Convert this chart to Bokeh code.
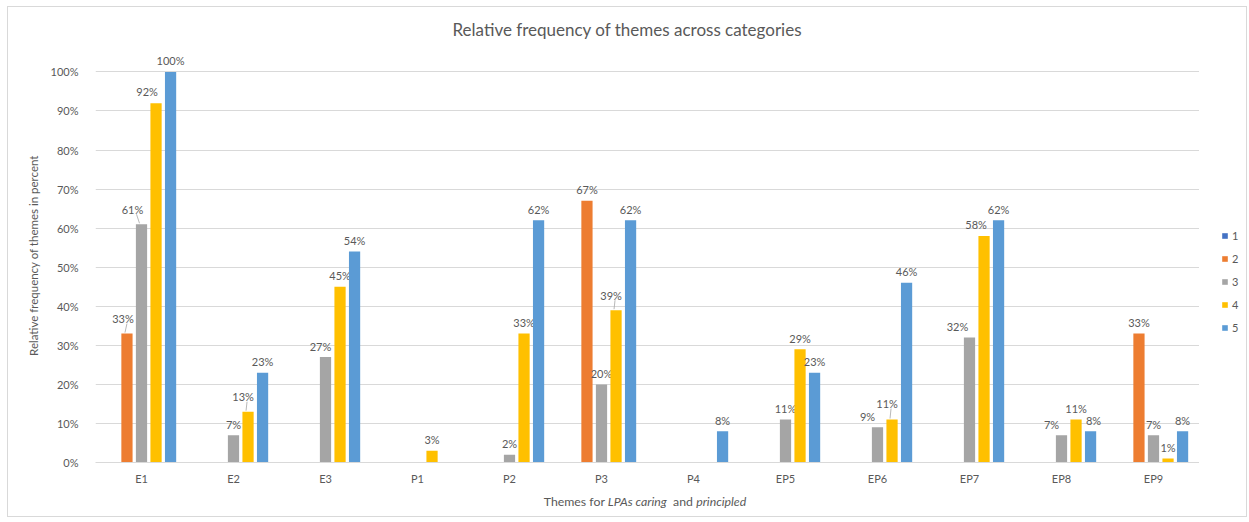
from bokeh.plotting import figure
from bokeh.models import (ColumnDataSource, FactorRange, Range1d, FixedTicker,
                          NumeralTickFormatter, Legend, LegendItem, Div)
from bokeh.layouts import column, row
from bokeh.transform import dodge
from bokeh.core.properties import value
from bokeh.embed import file_html
from bokeh.resources import INLINE

# ---------------- data ----------------
categories = ["E1", "E2", "E3", "P1", "P2", "P3", "P4", "EP5", "EP6", "EP7", "EP8", "EP9"]
series_names = ["1", "2", "3", "4", "5"]
s1 = [0, 0, 0, 0, 0, 0, 0, 0, 0, 0, 0, 0]
s2 = [33, 0, 0, 0, 0, 67, 0, 0, 0, 0, 0, 33]
s3 = [61, 7, 27, 0, 2, 20, 0, 11, 9, 32, 7, 7]
s4 = [92, 13, 45, 3, 33, 39, 0, 29, 11, 58, 11, 1]
s5 = [100, 23, 54, 0, 62, 62, 8, 23, 46, 62, 8, 8]
series_values = [s1, s2, s3, s4, s5]
y_ticks = [0, 0.1, 0.2, 0.3, 0.4, 0.5, 0.6, 0.7, 0.8, 0.9, 1.0]

title_text = "Relative frequency of themes across categories"
y_title = "Relative frequency of themes in percent"
x_title_html = "Themes for <i>LPAs caring</i>&nbsp; and <i>principled</i>"

# ---------------- style ----------------
colors = ["#4472C4", "#ED7D31", "#A5A5A5", "#FFC000", "#5B9BD5"]
FONT = "Lato"
TXT = "#595959"
GRID = "#D9D9D9"
step = 0.158
bar_w = 0.122
PX_X = 92.0      # pixels per category (approx)
PX_Y = 391.0     # pixels per unit of y (approx)

# label nudges (pixels) for crowded labels, like the reference
nudges = {("E1", "2"): (-4, -4), ("E1", "3"): (-9, -4), ("E1", "4"): (-9, -1),
          ("E2", "4"): (-5, -4), ("E3", "3"): (-5, 0), ("P3", "4"): (-5, -4),
          ("EP6", "3"): (-10, 0), ("EP6", "4"): (-5, -5), ("EP7", "3"): (-12, 0),
          ("EP7", "4"): (-8, 0), ("EP8", "3"): (-10, 0), ("EP8", "5"): (3, 0)}
leaders = {("E1", "2"), ("E1", "3"), ("E2", "4"), ("P3", "4"), ("EP6", "4")}

FIG_H = 480
p = figure(x_range=FactorRange(*categories), y_range=Range1d(0, 1.06),
           width=1191, height=FIG_H, output_backend="svg", toolbar_location=None,
           min_border_left=87, min_border_right=0, min_border_top=41,
           min_border_bottom=24, title=title_text)
p.outline_line_color = None
p.background_fill_color = "white"
p.border_fill_color = "white"

p.title.align = "left"
p.title.offset = 357
p.title.standoff = 17
p.title.text_font = FONT
p.title.text_font_size = "17px"
p.title.text_font_style = "normal"
p.title.text_color = TXT

for i, (name, vals, col) in enumerate(zip(series_names, series_values, colors)):
    off = (i - 2) * step
    frac = [v / 100.0 for v in vals]
    src = ColumnDataSource(dict(cat=categories, top=frac))
    p.vbar(x=dodge("cat", off, range=p.x_range), top="top", width=bar_w, source=src,
           fill_color=col, line_color=None)

    lc, ly, lt, dxs, dys = [], [], [], [], []
    seg = dict(x0=[], y0=[], x1=[], y1=[])
    for c, v in zip(categories, vals):
        if v <= 0:
            continue
        dx, dy = nudges.get((c, name), (0, 0))
        lc.append(c); ly.append(v / 100.0); lt.append(f"{v}%")
        dxs.append(dx); dys.append(-11 + dy)
        if (c, name) in leaders:
            ci = categories.index(c) + 0.5 + off
            seg["x0"].append(ci + (dx + 4) / PX_X)
            seg["y0"].append(v / 100.0 + (11 - dy - 5) / PX_Y)
            seg["x1"].append(ci - 2 / PX_X)
            seg["y1"].append(v / 100.0 + 1 / PX_Y)
    lsrc = ColumnDataSource(dict(cat=lc, y=ly, t=lt, dx=dxs, dy=dys))
    p.text(x=dodge("cat", off, range=p.x_range), y="y", text="t", source=lsrc,
           x_offset="dx", y_offset="dy", text_align="center", text_baseline="middle",
           text_font=value(FONT), text_font_size="11px", text_color=TXT)
    if seg["x0"]:
        p.segment(x0="x0", y0="y0", x1="x1", y1="y1", source=ColumnDataSource(seg),
                  line_color="#A6A6A6", line_width=0.8)

# axes
p.yaxis.ticker = FixedTicker(ticks=y_ticks)
p.yaxis.formatter = NumeralTickFormatter(format="0%")
p.yaxis.axis_line_color = None
p.yaxis.major_tick_line_color = None
p.yaxis.minor_tick_line_color = None
p.yaxis.major_label_standoff = 11
p.yaxis.major_label_text_font = FONT
p.yaxis.major_label_text_font_size = "11px"
p.yaxis.major_label_text_color = TXT
p.yaxis.axis_label = y_title
p.yaxis.axis_label_standoff = 8
p.yaxis.axis_label_text_font = FONT
p.yaxis.axis_label_text_font_size = "11.5px"
p.yaxis.axis_label_text_font_style = "normal"
p.yaxis.axis_label_text_color = TXT

p.xaxis.axis_line_color = GRID
p.xaxis.axis_line_width = 1
p.xaxis.major_tick_line_color = None
p.xaxis.minor_tick_line_color = None
p.xaxis.major_label_standoff = 3
p.xaxis.major_label_text_font = FONT
p.xaxis.major_label_text_font_size = "11px"
p.xaxis.major_label_text_color = TXT

p.xgrid.visible = False
p.ygrid.ticker = FixedTicker(ticks=y_ticks)
p.ygrid.grid_line_color = GRID
p.ygrid.grid_line_width = 1

# legend: a small companion figure to the right of the plot area
q = figure(width=47, height=FIG_H, x_range=Range1d(0, 1), y_range=Range1d(0, 1),
           output_backend="svg", toolbar_location=None, min_border=0, title=None,
           x_axis_location=None, y_axis_location=None)
q.grid.visible = False
q.outline_line_color = None
q.background_fill_color = "white"
q.border_fill_color = "white"
items = []
for name, col in zip(series_names, colors):
    # off-screen stand-in renderer, only used for the legend swatch
    r = q.vbar(x=[-5], top=[0], width=0.1, fill_color=col, line_color=None)
    items.append(LegendItem(label=name, renderers=[r]))
lg = Legend(items=items, location=(22, 128), orientation="vertical")
lg.border_line_color = None
lg.background_fill_alpha = 0
lg.padding = 0
lg.margin = 0
lg.glyph_width = 7
lg.glyph_height = 7
lg.label_height = 14
lg.label_width = 10
lg.label_standoff = 4
lg.spacing = 9
lg.label_text_font = FONT
lg.label_text_font_size = "11px"
lg.label_text_color = TXT
q.add_layout(lg)

# x-axis title with mixed italic text
xt = Div(text=f'<div style="display:block; box-sizing:border-box; width:1238px; '
              f'padding-left:36px; padding-top:9px; font-family:Lato; font-size:12.3px; '
              f'color:{TXT}; text-align:center; line-height:12px; margin:0;">'
              f'{x_title_html}</div>',
         width=1238, height=29, margin=0)

layout = column(row(p, q, spacing=0), xt, spacing=0)
layout.styles = {"outline": "1px solid #D9D9D9", "margin-left": "8px",
                 "margin-top": "7px", "background-color": "white"}

open("out.html", "w").write(file_html(layout, INLINE))
